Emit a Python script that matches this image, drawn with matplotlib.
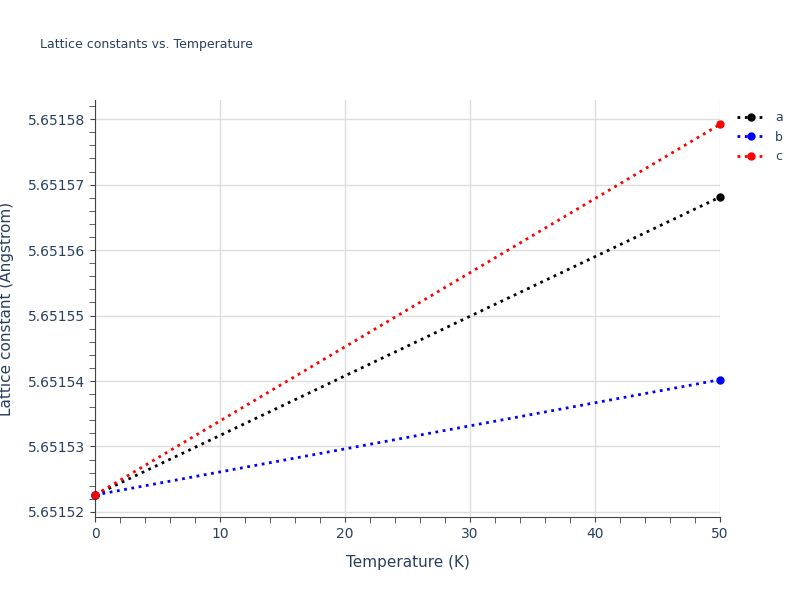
import matplotlib.pyplot as plt
from matplotlib.ticker import FormatStrFormatter, MultipleLocator

temps = [0, 50]
a_vals = [5.6515226, 5.6515681]
b_vals = [5.6515226, 5.6515402]
c_vals = [5.6515226, 5.6515792]
series = [("a", a_vals, "black"), ("b", b_vals, "blue"), ("c", c_vals, "red")]

fig = plt.figure(figsize=(8, 6), dpi=100)
ax = fig.add_axes([0.119, 0.138, 0.781, 0.695])
txt = "#2a3f5f"

for name, vals, col in series:
    ax.plot(temps, vals, linestyle=":", linewidth=2, color=col, marker="o",
            markersize=5, label=name, clip_on=False, zorder=3)

ax.set_xlim(0, 50)
ax.set_ylim(5.6515192, 5.6515829)
ax.xaxis.set_major_locator(MultipleLocator(10))
ax.xaxis.set_minor_locator(MultipleLocator(2))
ax.yaxis.set_major_locator(MultipleLocator(1e-5))
ax.yaxis.set_minor_locator(MultipleLocator(2e-6))
ax.yaxis.set_major_formatter(FormatStrFormatter("%.5f"))
ax.grid(True, which="major", color="#dddddd", linewidth=1)
ax.set_axisbelow(True)
for s in ["top", "right"]:
    ax.spines[s].set_visible(False)
for s in ["left", "bottom"]:
    ax.spines[s].set_color("#444444")
ax.tick_params(colors="#444444", labelcolor=txt, labelsize=10)
ax.tick_params(which="minor", colors="#444444", length=4)
ax.set_xlabel("Temperature (K)", color=txt, fontsize=11, labelpad=10)
ax.set_ylabel("Lattice constant (Angstrom)", color=txt, fontsize=11, labelpad=10)
fig.text(0.05, 0.92, "Lattice constants vs. Temperature", color=txt, fontsize=9)
ax.legend(loc="upper left", bbox_to_anchor=(1.01, 1.0), frameon=False,
          fontsize=9, labelcolor=txt, handlelength=2.2)
fig.savefig("out.png")
